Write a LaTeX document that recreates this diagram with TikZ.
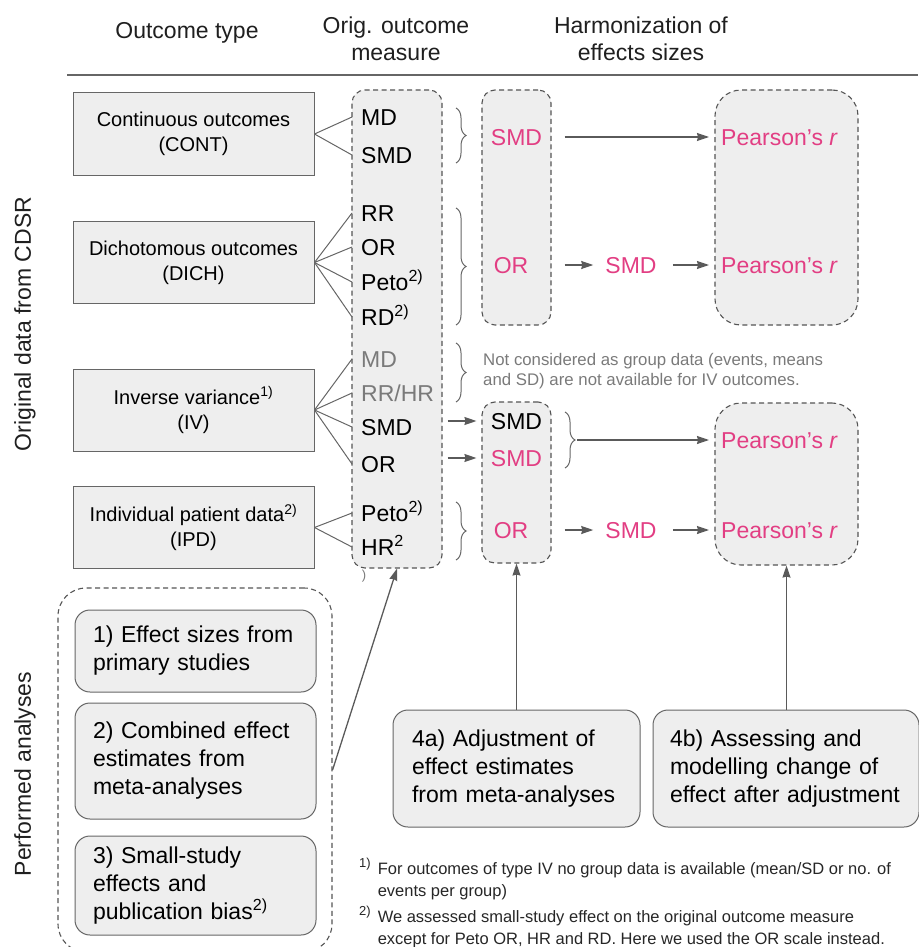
\documentclass[tikz,border=0pt]{standalone}
\usepackage{fontspec}
\setmainfont{Liberation Sans}
\usepackage{tikz}
\usetikzlibrary{positioning,arrows.meta,decorations.pathreplacing}
\definecolor{boxgray}{HTML}{EEEEEE}
\definecolor{linegray}{HTML}{666666}
\definecolor{dashgray}{HTML}{555555}
\definecolor{arrowgray}{HTML}{5A5A5A}
\definecolor{notegray}{HTML}{7A7A7A}
\definecolor{harmpink}{RGB}{226,62,131}
\tikzstyle{colhead} = [
align=center,
text=black!88,
font=\fontsize{23}{27}\selectfont
]
\tikzstyle{typebox} = [
rectangle,
minimum width=241pt,
minimum height=82pt,
align=center,
draw=linegray,
line width=1pt,
fill=boxgray,
inner sep=0pt,
font=\fontsize{20}{25}\selectfont
]
\tikzstyle{dashcol} = [
rectangle,
rounded corners=13pt,
draw=dashgray,
line width=1.1pt,
dash pattern=on 5pt off 3.5pt,
fill=boxgray,
inner sep=0pt
]
\tikzstyle{measure} = [
anchor=west,
inner xsep=9pt,
inner ysep=1pt,
text height=16.5pt,
text depth=0pt,
font=\fontsize{23}{27}\selectfont
]
\tikzstyle{harm} = [
inner sep=3pt,
text=harmpink,
text height=16.5pt,
text depth=0pt,
font=\fontsize{23}{27}\selectfont
]
\tikzstyle{stepbox} = [
rectangle,
rounded corners=15pt,
draw=linegray,
line width=1pt,
fill=boxgray,
align=left,
inner xsep=18pt,
text width=205pt,
font=\fontsize{23}{28}\selectfont
]
\tikzstyle{branch} = [
draw=linegray,
line width=1pt
]
\tikzstyle{curly} = [
decorate,
decoration={brace,amplitude=10pt},
draw=linegray,
line width=1pt
]
\tikzstyle{arrow} = [
draw=arrowgray,
line width=1.3pt,
-{Stealth[length=12pt,width=8pt,inset=1pt]},
shorten <=13pt,
shorten >=9pt
]

\begin{document}
\begin{tikzpicture}[x=1pt,y=-1pt]
					\useasboundingbox (0,0) rectangle (918,947);
					%Headers
					\node[colhead] (hType) at (187,33) {Outcome type};
					\node[colhead] (hOrig) at (396,38.5) {Orig. outcome\\measure};
					\node[colhead] (hHarm) at (641,38.5) {Harmonization of\\effects sizes};
					\coordinate (ruleL) at (67,75);
					\coordinate (ruleR) at (918,75);
					\draw[draw=linegray,line width=1.3pt] (ruleL) -- (ruleR);
					\node[colhead,rotate=90] (dataLabel) at (25,324) {Original data from CDSR};
					\node[colhead,rotate=90] (perfLabel) at (25,774) {Performed analyses};
					%Outcome types
					\node[typebox] (cont) at (193.5,134) {Continuous outcomes\\(CONT)};
					\node[typebox] (dich) at (193.5,262.5) {Dichotomous outcomes\\(DICH)};
					\node[typebox] (iv) at (193.5,410) {Inverse variance\textsuperscript{1)}\\(IV)};
					\node[typebox] (ipd) at (193.5,527.5) {Individual patient data\textsuperscript{2)}\\(IPD)};
					%Columns
					\node[dashcol,minimum width=90pt,minimum height=478pt] (origCol) at (397,329) {};
					\node[dashcol,minimum width=69pt,minimum height=235pt] (hCol1) at (516.5,207.5) {};
					\node[dashcol,minimum width=69pt,minimum height=161pt] (hCol2) at (516.5,482.5) {};
					\node[dashcol,rounded corners=26pt,minimum width=143pt,minimum height=235pt] (pBox1) at (786.5,207.5) {};
					\node[dashcol,rounded corners=26pt,minimum width=143pt,minimum height=162pt] (pBox2) at (786.5,484) {};
					%Original measures
					\node[measure] (mContMD) at (352,117) {MD};
					\node[measure] (mContSMD) at (352,155) {SMD};
					\node[measure] (mDichRR) at (352,213) {RR};
					\node[measure] (mDichOR) at (352,247) {OR};
					\node[measure] (mDichPeto) at (352,282) {Peto\textsuperscript{2)}};
					\node[measure] (mDichRD) at (352,317) {RD\textsuperscript{2)}};
					\node[measure,text=notegray] (mIvMD) at (352,359) {MD};
					\node[measure,text=notegray] (mIvRRHR) at (352,393) {RR/HR};
					\node[measure] (mIvSMD) at (352,427) {SMD};
					\node[measure] (mIvOR) at (352,464) {OR};
					\node[measure] (mIpdPeto) at (352,513) {Peto\textsuperscript{2)}};
					\node[measure] (mIpdHR) at (352,547) {HR\textsuperscript{2}};
					\node[text=notegray,inner sep=0pt,font=\fontsize{13}{13}\selectfont] (tailMark) at (364,576) {)};
					%Harmonized measures
					\node[harm] (hSMD1) at (516.5,137) {SMD};
					\node[harm,anchor=west] (pr1) at (718,137) {Pearson’s \textit{r}};
					\node[harm] (hOR1) at (511,265) {OR};
					\node[harm] (hSMD2) at (631,265) {SMD};
					\node[harm,anchor=west] (pr2) at (718,265) {Pearson’s \textit{r}};
					\node[harm,text=black] (hSMD3) at (516.5,421) {SMD};
					\node[harm] (hSMD4) at (516.5,458) {SMD};
					\node[harm,anchor=west] (pr3) at (718,440) {Pearson’s \textit{r}};
					\node[harm] (hOR2) at (511,530) {OR};
					\node[harm] (hSMD5) at (631,530) {SMD};
					\node[harm,anchor=west] (pr4) at (718,530) {Pearson’s \textit{r}};
					\node[anchor=west,inner sep=3pt,align=left,text=notegray,font=\fontsize{16.8}{20}\selectfont] (ivNote) at (480,371) {Not considered as group data (events, means\\and SD) are not available for IV outcomes.};
					%Analyses
					\node[dashcol,fill=none,rounded corners=28pt,minimum width=274pt,minimum height=364pt] (perfBox) at (195,770) {};
					\node[stepbox,minimum height=82pt] (a1) at (195.5,651) {1) Effect sizes from\\primary studies};
					\node[stepbox,minimum height=116pt,below=10pt of a1] (a2) {2) Combined effect\\estimates from\\meta-analyses};
					\node[stepbox,minimum height=99pt,below=16pt of a2] (a3) {3) Small-study\\effects and\\publication bias\textsuperscript{2)}};
					\node[stepbox,text width=209pt,inner xsep=19pt,minimum height=117pt] (a4a) at (516.5,768.5) {4a) Adjustment of\\effect estimates\\from meta-analyses};
					\node[stepbox,text width=232pt,inner xsep=17pt,minimum height=117pt,right=12pt of a4a] (a4b) {4b) Assessing and\\modelling change of\\effect after adjustment};
					%Footnotes
					\node[anchor=north west,inner sep=0pt,text=black!85,font=\fontsize{16.5}{22}\selectfont] (fn1) at (359,858.5) {\begin{tabular}{@{}l@{\hspace{7pt}}l@{}}\smash{\raisebox{7pt}{\fontsize{13}{13}\selectfont 1)}} & For outcomes of type IV no group data is available (mean/SD or no. of\\ & events per group)\end{tabular}};
					\node[anchor=north west,inner sep=0pt,text=black!85,font=\fontsize{16.5}{22}\selectfont] (fn2) at (359,906.5) {\begin{tabular}{@{}l@{\hspace{7pt}}l@{}}\smash{\raisebox{7pt}{\fontsize{13}{13}\selectfont 2)}} & We assessed small-study effect on the original outcome measure\\ & except for Peto OR, HR and RD. Here we used the OR scale instead.\end{tabular}};
					%Branches
					\draw[branch] (cont.east) -- (mContMD.west);
					\draw[branch] (cont.east) -- (mContSMD.west);
					\draw[branch] (dich.east) -- (mDichRR.west);
					\draw[branch] (dich.east) -- (mDichOR.west);
					\draw[branch] (dich.east) -- (mDichPeto.west);
					\draw[branch] (dich.east) -- (mDichRD.west);
					\draw[branch] (iv.east) -- (mIvMD.west);
					\draw[branch] (iv.east) -- (mIvRRHR.west);
					\draw[branch] (iv.east) -- (mIvSMD.west);
					\draw[branch] (iv.east) -- (mIvOR.west);
					\draw[branch] (ipd.east) -- (mIpdPeto.west);
					\draw[branch] (ipd.east) -- (mIpdHR.west);
					%Braces
					\draw[curly] (456,108) -- (456,163);
					\draw[curly] (456,208) -- (456,325);
					\draw[curly] (456,343) -- (456,402);
					\draw[curly] (565,412) -- (565,468);
					\draw[curly] (456,502) -- (456,560);
					\coordinate (b4tip) at (577,440);
					%Arrows
					\draw[arrow] (hCol1.east |- hSMD1) -- (pr1.west);
					\draw[arrow] (hCol1.east |- hOR1) -- (hSMD2.west);
					\draw[arrow] (hSMD2.east) -- (pr2.west);
					\draw[arrow,shorten <=5pt,shorten >=5pt] (origCol.east |- hSMD3) -- (hCol2.west |- hSMD3);
					\draw[arrow,shorten <=5pt,shorten >=5pt] (origCol.east |- hSMD4) -- (hCol2.west |- hSMD4);
					\draw[arrow,shorten <=0pt] (b4tip) -- (pr3.west);
					\draw[arrow] (hCol2.east |- hOR2) -- (hSMD5.west);
					\draw[arrow] (hSMD5.east) -- (pr4.west);
					\draw[arrow,shorten <=0pt,shorten >=0pt] (perfBox.east) -- (origCol.south);
					\draw[arrow,shorten <=0pt,shorten >=0pt] (a4a.north) -- (hCol2.south);
					\draw[arrow,shorten <=0pt,shorten >=0pt] (a4b.north -| pBox2.south) -- (pBox2.south);
				\end{tikzpicture}
\end{document}
